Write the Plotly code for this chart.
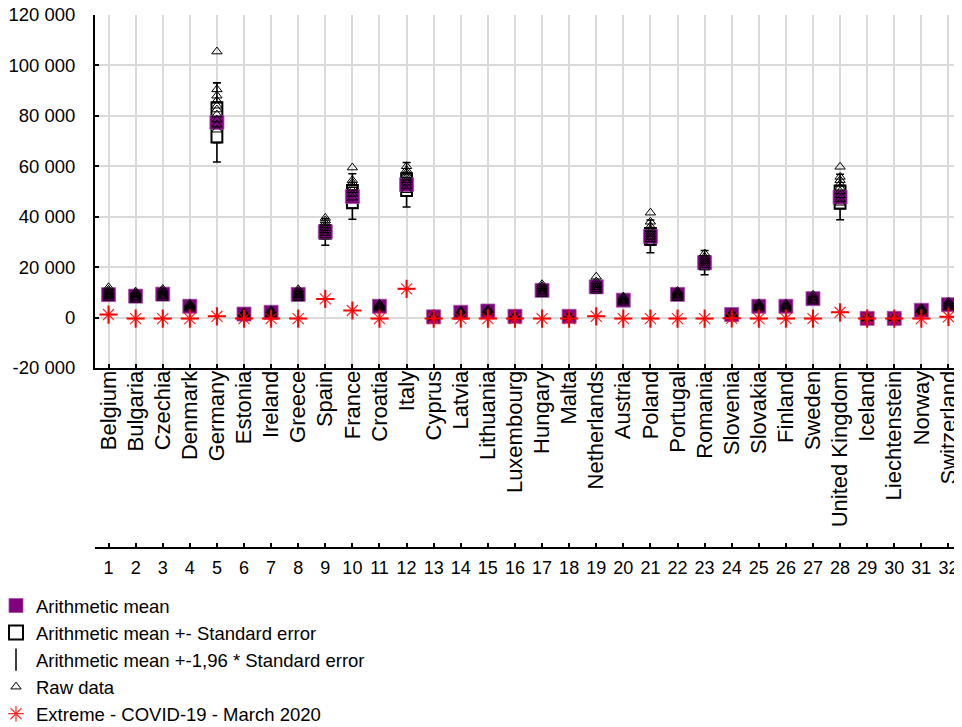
import plotly.graph_objects as go

countries = ["Belgium", "Bulgaria", "Czechia", "Denmark", "Germany", "Estonia", "Ireland", "Greece",
             "Spain", "France", "Croatia", "Italy", "Cyprus", "Latvia", "Lithuania", "Luxembourg",
             "Hungary", "Malta", "Netherlands", "Austria", "Poland", "Portugal", "Romania", "Slovenia",
             "Slovakia", "Finland", "Sweden", "United Kingdom", "Iceland", "Liechtenstein", "Norway",
             "Switzerland"]
positions = list(range(1, 33))
position_labels = [str(i) for i in positions]

means = [9100, 8500, 9300, 4500, 77400, 1400, 2100, 9200, 34000, 48000, 4500, 52700, 300, 2100,
         2600, 500, 10800, 500, 12200, 6900, 32200, 9200, 21800, 1200, 4500, 4500, 7500, 47800,
         -300, -300, 2900, 5100]
std_errors = [500, 400, 400, 300, 8000, 100, 150, 500, 2700, 4600, 300, 4500, 50, 150, 200, 50,
              600, 50, 800, 400, 3300, 500, 2450, 100, 300, 300, 400, 4600, 30, 10, 200, 400]
raw_data = [
    [7800, 8400, 8900, 9300, 9800, 10400, 11000, 12000],
    [7000, 7600, 8200, 8700, 9200, 9700, 10300],
    [7800, 8500, 9000, 9500, 10000, 10600, 11300],
    [3600, 4000, 4400, 4800, 5200, 5500],
    [74500, 76500, 78500, 80500, 82500, 84000, 86000, 88000, 90500, 105500],
    [800, 1100, 1400, 1700, 2000],
    [1300, 1700, 2100, 2500, 2900],
    [7600, 8200, 8800, 9300, 9800, 10500, 11200],
    [32500, 33500, 34500, 35500, 36500, 37500, 38500, 39500],
    [47500, 49000, 50500, 51500, 52500, 53500, 54500, 59500],
    [3600, 4100, 4600, 5000, 5400],
    [50500, 52000, 53500, 54500, 55500, 56500, 57500, 58500, 60000],
    [0, 200, 400, 600],
    [1500, 1900, 2300, 2700],
    [2000, 2400, 2800, 3200],
    [200, 400, 600, 800],
    [9300, 9900, 10500, 11100, 11700, 12400, 13200],
    [200, 400, 600, 800],
    [10600, 11300, 12000, 12700, 13300, 14300, 16200],
    [5900, 6400, 6900, 7400, 7900, 8300],
    [29500, 31000, 32000, 33000, 34000, 35000, 36200, 38000, 41600],
    [7700, 8300, 8900, 9400, 9900, 10500],
    [19800, 20800, 21700, 22500, 23300, 24100, 25400],
    [700, 1000, 1300, 1600, 1900],
    [3600, 4100, 4600, 5100, 5600],
    [3500, 4000, 4500, 5000, 5500],
    [6300, 6900, 7500, 8100, 9000],
    [45500, 47000, 48500, 50000, 51500, 53000, 54500, 55800, 59800],
    [-400, -200, 0, 200],
    [-300, -200, -100, 0],
    [2100, 2500, 2900, 3300, 3700],
    [4000, 4500, 5000, 5600, 6300],
]
extremes = [1200, -400, -400, -400, 500, -400, -400, -400, 7400, 2800, -400, 11400, -400, -400,
            -400, -400, -400, -400, 500, -400, -400, -400, -400, -300, -400, -400, -400, 2100,
            -400, -400, -400, 300]

y_ticks = [-20000, 0, 20000, 40000, 60000, 80000, 100000, 120000]
y_tick_labels = ["-20 000", "0", "20 000", "40 000", "60 000", "80 000", "100 000", "120 000"]

FONT = "Liberation Sans, Arial, sans-serif"
Z = 1.96

box_low = [m - s for m, s in zip(means, std_errors)]
box_high = [m + s for m, s in zip(means, std_errors)]
box_span = [2 * s for s in std_errors]
whisk_ext = [(Z - 1) * s for s in std_errors]
zeros = [0] * len(means)

raw_x, raw_y = [], []
for p, vals in zip(positions, raw_data):
    for v in vals:
        raw_x.append(p)
        raw_y.append(v)

fig = go.Figure()

# whiskers (outside the box)
fig.add_trace(go.Scatter(
    x=positions, y=box_high, mode="markers", showlegend=False, hoverinfo="skip",
    marker=dict(size=1, color="rgba(0,0,0,0)"),
    error_y=dict(type="data", array=whisk_ext, arrayminus=zeros, symmetric=False,
                 color="black", thickness=1.6, width=4)))
fig.add_trace(go.Scatter(
    x=positions, y=box_low, mode="markers", showlegend=False, hoverinfo="skip",
    marker=dict(size=1, color="rgba(0,0,0,0)"),
    error_y=dict(type="data", array=zeros, arrayminus=whisk_ext, symmetric=False,
                 color="black", thickness=1.6, width=4)))

# mean
fig.add_trace(go.Scatter(
    x=positions, y=means, mode="markers", name="Arithmetic mean",
    marker=dict(symbol="square", size=14, color="#800080",
                line=dict(color="rgba(160,80,160,0.8)", width=1))))

# mean +- SE box (legend entry drawn by a separate open-square item)
fig.add_trace(go.Bar(
    x=positions, y=box_span, base=box_low, width=0.4, showlegend=False, hoverinfo="skip",
    marker=dict(color="white", line=dict(color="black", width=2))))
fig.add_trace(go.Scatter(
    x=[None], y=[None], mode="markers", name="Arithmetic mean +- Standard error",
    marker=dict(symbol="square-open", size=14, color="black", line=dict(color="black", width=2))))

# legend entry for whiskers
fig.add_trace(go.Scatter(
    x=[None], y=[None], mode="markers", name="Arithmetic mean +-1,96 * Standard error",
    marker=dict(symbol="line-ns-open", size=16, color="black", line=dict(color="black", width=1.5))))

# raw data
fig.add_trace(go.Scatter(
    x=raw_x, y=raw_y, mode="markers", name="Raw data",
    marker=dict(symbol="triangle-up-open", size=9, color="black", line=dict(color="black", width=1))))

# extremes
fig.add_trace(go.Scatter(
    x=positions, y=extremes, mode="markers", name="Extreme - COVID-19 - March 2020", xaxis="x2",
    marker=dict(symbol="asterisk-open", size=13, color="rgba(255,0,0,0.85)",
                line=dict(color="rgba(255,0,0,0.85)", width=1.2))))
fig.add_trace(go.Scatter(
    x=positions, y=extremes, mode="markers", showlegend=False, xaxis="x2", hoverinfo="skip",
    marker=dict(symbol="cross-thin-open", size=13, color="red", line=dict(color="red", width=2))))

# the page body adds an 8 px margin, so the figure is laid out in page coords minus 8
OFF = 8
W, H = 962 - OFF, 727 - OFF
left, top, plot_bottom, axis2_y = 95 - OFF, 15 - OFF, 368 - OFF, 548 - OFF
legend_left, legend_top = -4 - OFF, 587 - OFF
paper_h = axis2_y - top
paper_w = W - left
y_dom0 = (axis2_y - plot_bottom) / paper_h

grid = "#dadada"
fig.update_layout(
    width=W, height=H,
    margin=dict(l=left, r=0, t=top, b=H - axis2_y, autoexpand=False),
    paper_bgcolor="white", plot_bgcolor="white",
    font=dict(family=FONT, size=19, color="black"),
    showlegend=True,
    legend=dict(x=(legend_left - left) / paper_w, y=-(legend_top - axis2_y) / paper_h,
                xanchor="left", yanchor="top", bgcolor="rgba(0,0,0,0)",
                font=dict(family=FONT, size=18.5, color="black"), itemsizing="trace"),
    xaxis=dict(range=[0.5, 32.5], tickmode="array", tickvals=positions, ticktext=countries,
               tickangle=-90, showgrid=True, gridcolor=grid, gridwidth=2, zeroline=False,
               showline=True, linecolor="black", linewidth=2, ticks="inside", ticklen=4,
               tickcolor="black", tickwidth=1.5, tickfont=dict(size=22), automargin=False,
               ticklabelstandoff=-8, ticklabeloverflow="allow"),
    xaxis2=dict(range=[0.5, 32.5], overlaying="x", anchor="free", position=0, side="bottom",
                tickmode="array", tickvals=positions, ticktext=position_labels, showgrid=False,
                zeroline=False, showline=True, linecolor="black", linewidth=2, ticks="inside",
                ticklen=4, tickcolor="black", tickwidth=1.5, tickfont=dict(size=18),
                ticklabelstandoff=3, automargin=False, ticklabeloverflow="allow"),
    yaxis=dict(domain=[y_dom0, 1], range=[-20000, 120000], tickmode="array", tickvals=y_ticks,
               ticktext=y_tick_labels, showgrid=True, gridcolor=grid, gridwidth=2, zeroline=False,
               showline=True, linecolor="black", linewidth=2, ticks="inside", ticklen=4,
               tickcolor="black", tickwidth=1.5, tickfont=dict(size=18.5), ticklabelstandoff=14,
               automargin=False, ticklabeloverflow="allow"),
)

fig.write_html("out.html")
